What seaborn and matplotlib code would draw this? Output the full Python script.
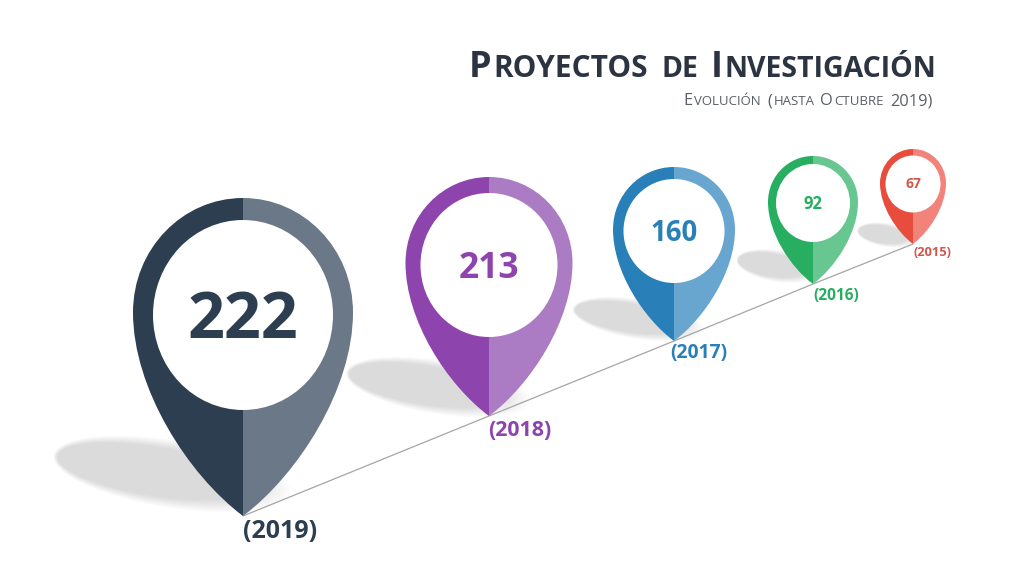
import matplotlib.pyplot as plt
import pandas as pd
import seaborn as sns
from matplotlib.patches import Ellipse, PathPatch
from matplotlib.path import Path

# datos
years = [2019, 2018, 2017, 2016, 2015]
proyectos = [222, 213, 160, 92, 67]

# colores de cada pin
dark_colors = ['#2c3e50', '#8e44ad', '#2980b9', '#27ae60', '#e74c3c']
light_colors = ['#6b7887', '#ab7bc4', '#69a6cf', '#68c690', '#f2837a']
value_colors = ['#2c3e50', '#8e44ad', '#2980b9', '#27ae60', '#d0574c']

# geometria en pixeles de la imagen
tip_x = [243, 489, 674, 813, 913]
tip_y = [516, 416, 341, 284, 244]
pin_top = [198, 177, 167, 156, 149]
half_width = [110, 83.5, 61, 45, 33]
hole_y = [315, 265, 231, 203, 184]
hole_rx = [90, 68.5, 50.5, 37, 27.5]
hole_ry = [95, 72, 52, 39, 28.5]
value_size = [46.5, 25.5, 19.8, 12, 10]
year_size = [18, 15.4, 13.9, 11.2, 9.3]
year_x = [243, 488, 670, 813, 913]
year_y = [532, 430, 353, 296, 252]
shadow_x = [172, 438, 638, 778, 887]
shadow_y = [474, 387, 319, 266, 235]
shadow_w = [240, 186, 132, 84, 60]
shadow_h = [68, 54, 40, 32, 24]

FONT = 'Open Sans'


def half_pin(cx, top, tip, hw, side):
    """Media gota: side=1 derecha, side=-1 izquierda"""
    h = tip - top
    pts = [(0, 0), (0.55, 0), (1, 0.16), (1, 0.36),
           (1, 0.60), (0.50, 0.87), (0, 1), (0, 0)]
    verts = [(cx + side * px * hw, top + py * h) for px, py in pts]
    codes = [Path.MOVETO] + [Path.CURVE4] * 6 + [Path.CLOSEPOLY]
    return Path(verts, codes)


def draw_shadow(ax, x, y, w, h):
    # varias elipses superpuestas para difuminar el borde
    n = 12
    for i in range(n):
        f = i / n
        cw = w * (1 - 0.2 * f)
        ch = h * (1 - 0.3 * f)
        ax.add_patch(Ellipse((x - (w - cw) * 0.4, y - (w - cw) * 0.06), cw, ch,
                             angle=9, color='black', alpha=0.0135, lw=0, zorder=1))


def draw_runs(ax, fig, runs, right, baseline, color, weight):
    """Versalitas: cada trozo (texto, tamano, hueco a su izquierda) se coloca desde la derecha"""
    renderer = fig.canvas.get_renderer()
    x = right
    for text, size, gap in reversed(runs):
        t = ax.text(x, baseline, text, fontsize=size, color=color, family=FONT,
                    fontweight=weight, ha='right', va='baseline')
        x -= t.get_window_extent(renderer).width + gap


def main():
    sns.set_theme(style='white')
    plt.rcParams['font.family'] = [FONT, 'DejaVu Sans']

    fig = plt.figure(figsize=(10.24, 5.76), dpi=100)
    ax = fig.add_axes([0, 0, 1, 1])

    for i in range(len(years)):
        draw_shadow(ax, shadow_x[i], shadow_y[i], shadow_w[i], shadow_h[i])

    # linea base que une las puntas
    line = pd.DataFrame({'x': tip_x, 'y': tip_y})
    sns.lineplot(data=line, x='x', y='y', color='#a5a5a5', linewidth=0.9,
                 ax=ax, zorder=2, sort=False)

    for i, (year, value) in enumerate(zip(years, proyectos)):
        cx = tip_x[i]
        ax.add_patch(PathPatch(half_pin(cx, pin_top[i], tip_y[i], half_width[i], -1),
                               facecolor=dark_colors[i], lw=0, zorder=3))
        ax.add_patch(PathPatch(half_pin(cx, pin_top[i], tip_y[i], half_width[i], 1),
                               facecolor=light_colors[i], lw=0, zorder=3))
        ax.add_patch(Ellipse((cx, hole_y[i]), 2 * hole_rx[i], 2 * hole_ry[i],
                             facecolor='white', lw=0, zorder=4))
        ax.text(cx, hole_y[i] - 1, str(value), fontsize=value_size[i], fontweight='bold',
                color=value_colors[i], ha='center', va='center_baseline', zorder=5)
        ax.text(year_x[i], year_y[i], f'({year})', fontsize=year_size[i], fontweight='bold',
                color=value_colors[i], ha='left', va='center', zorder=5)

    ax.set_xlim(0, 1024)
    ax.set_ylim(576, 0)
    ax.axis('off')

    fig.canvas.draw()
    draw_runs(ax, fig, [('P', 26, 0), ('ROYECTOS', 21.5, 2), ('DE', 20.5, 13),
                        ('I', 26, 12), ('NVESTIGACIÓN', 20.5, 2)],
              936, 77, '#2b3440', 'bold')
    draw_runs(ax, fig, [('E', 11.8, 0), ('VOLUCIÓN', 9.5, 1), ('(', 11.8, 7),
                        ('HASTA', 9.5, 1), ('O', 11.8, 6), ('CTUBRE', 9.5, 1),
                        ('2019)', 11.8, 7)],
              933, 105, '#595f66', 'normal')

    fig.savefig('out.png', dpi=100, facecolor='white')


if __name__ == "__main__":
    main()
